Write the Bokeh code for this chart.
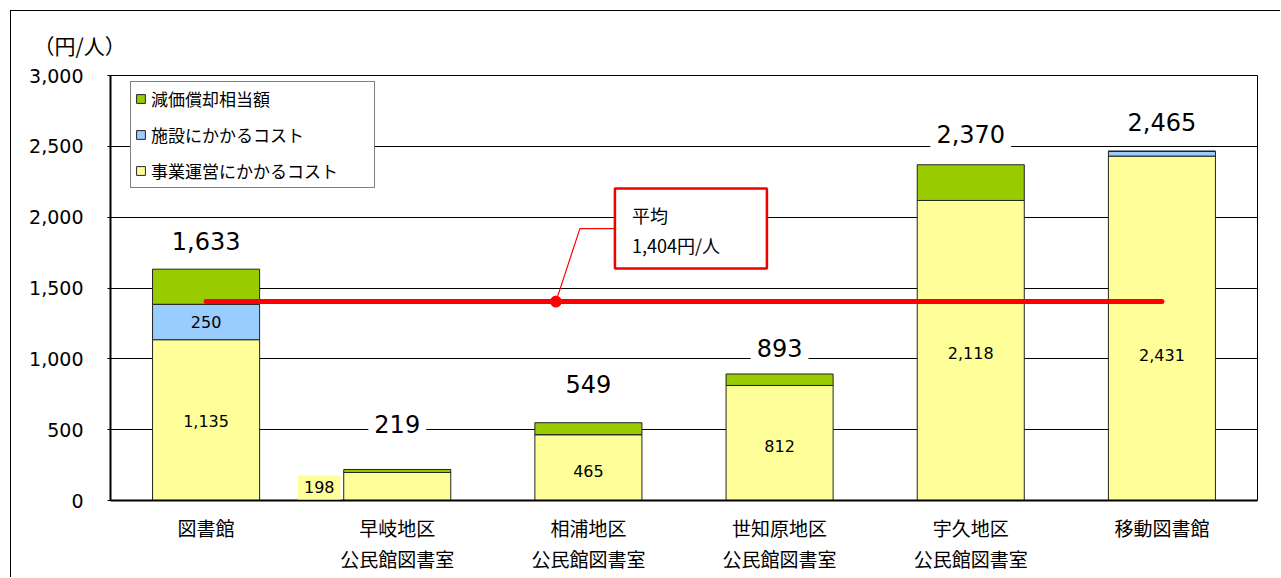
from bokeh.plotting import figure
from bokeh.models import (ColumnDataSource, FixedTicker, NumeralTickFormatter, Legend, LegendItem,
                          LabelSet, Label, Range1d)
from bokeh.core.properties import value
from bokeh.embed import file_html
from bokeh.resources import INLINE

# ---- data ----
categories = ["図書館", "早岐地区\n公民館図書室", "相浦地区\n公民館図書室",
              "世知原地区\n公民館図書室", "宇久地区\n公民館図書室", "移動図書館"]
ops_cost = [1135, 198, 465, 812, 2118, 2431]        # 事業運営にかかるコスト
facility_cost = [250, 0, 0, 0, 0, 34]              # 施設にかかるコスト
depreciation = [248, 21, 84, 81, 252, 0]           # 減価償却相当額
totals = [1633, 219, 549, 893, 2370, 2465]
average = 1404
y_ticks = [0, 500, 1000, 1500, 2000, 2500, 3000]
series_names = ["事業運営にかかるコスト", "施設にかかるコスト", "減価償却相当額"]

# ---- layout constants ----
OFF = 10                      # outer frame offset (margin)
W, H = 1281 - OFF - 1, 578 - OFF - 1
ML, MR, MT, MB = 110 - OFF - 1, 24, 75 - OFF - 1, 78
FW, FH = W - ML - MR, H - MT - MB
XR, YR = 6.0, 3000.0
px2x, px2y = XR / FW, YR / FH
total_label_offset_px = [28, 45, 39, 26, 31, 29]
ops_label_offset_px = [-1, 0, -3, -3, -3, -27]
JP = "Noto Sans CJK JP"
NUM = "DejaVu Sans"
YEL, BLU, GRN = "#FFFF99", "#99CCFF", "#99CC00"

xs = [i + 0.5 for i in range(len(categories))]
src = ColumnDataSource(dict(x=xs, ops=ops_cost, fac=facility_cost, dep=depreciation))

p = figure(width=W, height=H, output_backend="svg", toolbar_location=None,
           x_range=Range1d(0, XR), y_range=Range1d(0, YR),
           min_border_left=ML, min_border_right=MR, min_border_top=MT, min_border_bottom=MB,
           title="（円/人）")
p.margin = (OFF, 0, 0, OFF)
p.styles = {"border-left": "1px solid black", "border-top": "1px solid black"}
p.outline_line_color = "black"
p.outline_line_width = 1
p.background_fill_color = "white"
p.border_fill_color = "white"

# unit label as title
p.title.text_font = JP
p.title.text_font_size = "21px"
p.title.text_font_style = "normal"
p.title.text_color = "black"
p.title.align = "left"
p.title.offset = -77
p.title.standoff = 32

# grid / axes
p.xgrid.grid_line_color = None
p.ygrid.grid_line_color = "black"
p.ygrid.grid_line_width = 1
p.yaxis.ticker = FixedTicker(ticks=y_ticks)
p.yaxis.formatter = NumeralTickFormatter(format="0,0")
p.yaxis.major_label_text_font = NUM
p.yaxis.major_label_text_font_size = "19px"
p.yaxis.major_label_text_color = "black"
p.yaxis.major_tick_out = 3
p.yaxis.major_tick_in = 0
p.yaxis.minor_tick_line_color = None
p.yaxis.major_label_standoff = 24
p.yaxis.axis_line_width = 2
p.yaxis.axis_line_color = "black"
p.yaxis.major_tick_line_color = "black"

p.xaxis.ticker = FixedTicker(ticks=xs)
p.xaxis.major_label_overrides = {x: c for x, c in zip(xs, categories)}
p.xaxis.major_label_text_font = JP
p.xaxis.major_label_text_font_size = "19px"
p.xaxis.major_label_text_color = "black"
p.xaxis.major_label_text_line_height = 1.15
p.xaxis.major_tick_line_color = None
p.xaxis.minor_tick_line_color = None
p.xaxis.major_label_standoff = 7
p.xaxis.axis_line_width = 2
p.xaxis.axis_line_color = "black"

# stacked bars
rs = p.vbar_stack(["ops", "fac", "dep"], x="x", width=0.56, source=src,
                  color=[YEL, BLU, GRN], line_color="#222222", line_width=1)
for r, c in zip(rs, [YEL, BLU, GRN]):
    r.glyph.fill_color = c
    r.glyph.line_color = "#222222"

legend = Legend(items=[LegendItem(label=series_names[2], renderers=[rs[2]]),
                       LegendItem(label=series_names[1], renderers=[rs[1]]),
                       LegendItem(label=series_names[0], renderers=[rs[0]])],
                location=(20, FH - 7 - 106))
legend.label_text_font = JP
legend.label_text_font_size = "17px"
legend.label_text_color = "black"
legend.glyph_width = 11
legend.glyph_height = 11
legend.label_height = 20
legend.spacing = 11
legend.padding = 4
legend.label_standoff = 5
legend.label_width = 219
legend.border_line_color = "black"
legend.border_line_width = 1
legend.background_fill_alpha = 1
legend.margin = 0
p.add_layout(legend)

# average line and callout
p.line(x=[xs[0], xs[-1]], y=[average, average], line_color="#FF0000", line_width=5, line_cap="round")
cx = 2.33
p.line(x=[cx, cx + 24 * px2x, cx + 59 * px2x],
       y=[average, average + 73 * px2y, average + 73 * px2y], line_color="#FF0000", line_width=1.2)
p.scatter(x=[cx], y=[average], size=11, color="#FF0000")
p.rect(x=[cx + 135 * px2x], y=[average + 73 * px2y], width=152, height=80,
       width_units="screen", height_units="screen",
       fill_color="white", line_color="#EE0000", line_width=2.5)
p.text(x=[cx + 76 * px2x, cx + 76 * px2x], y=[average + 87 * px2y, average + 57 * px2y],
       text=["平均", "1,404円/人"], text_font=value(JP), text_font_size="18px",
       text_baseline="middle", text_align="left", text_color="black")

# totals labels
for x, v, off in zip(xs, totals, total_label_offset_px):
    p.add_layout(Label(x=x, y=v, y_offset=off, text=f"{v:,}", text_font=NUM, text_font_size="24px",
                       text_align="center", text_baseline="middle", text_color="black",
                       background_fill_color="white", padding=6))

# segment labels
seg_x, seg_y, seg_t, seg_off = [], [], [], []
for i, x in enumerate(xs):
    if i == 1:
        continue
    seg_x.append(x); seg_y.append(ops_cost[i] / 2); seg_t.append(f"{ops_cost[i]:,}")
    seg_off.append(ops_label_offset_px[i])
ssrc = ColumnDataSource(dict(x=seg_x + [xs[0]], y=seg_y + [ops_cost[0] + facility_cost[0] / 2],
                             t=seg_t + [f"{facility_cost[0]:,}"], off=seg_off + [0]))
p.add_layout(LabelSet(x="x", y="y", text="t", y_offset="off", source=ssrc,
                      text_font=value(NUM), text_font_size="16px", text_align="center",
                      text_baseline="middle", text_color="black"))
# small bar label outside (198)
p.add_layout(Label(x=xs[1], y=ops_cost[1] / 2, text=f"{ops_cost[1]:,}", x_offset=-78, y_offset=-1,
                   text_font=NUM, text_font_size="16px", text_align="center", text_baseline="middle",
                   text_color="black", background_fill_color=YEL, padding=6))

open("out.html", "w").write(file_html(p, INLINE))
